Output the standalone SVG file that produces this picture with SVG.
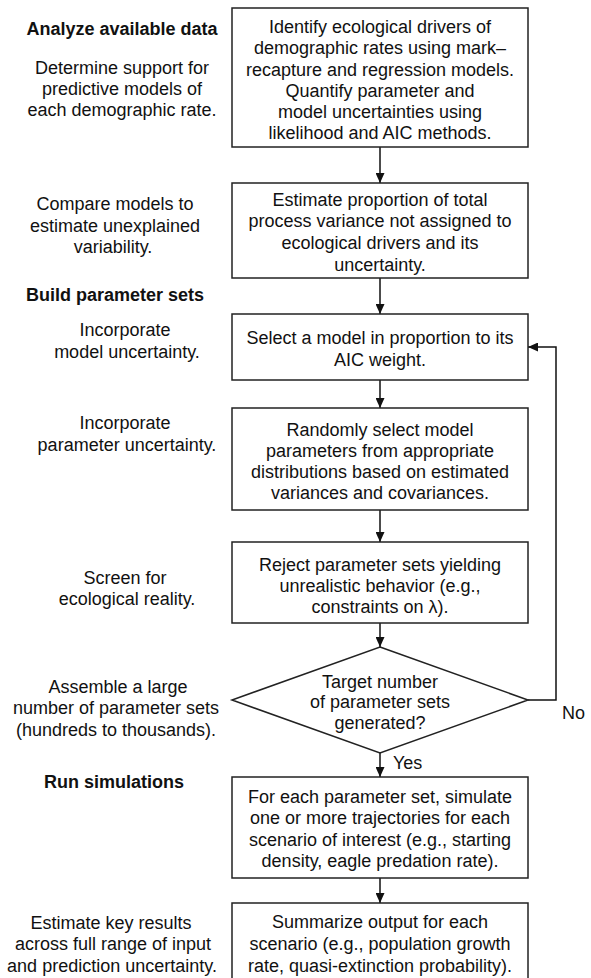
<svg xmlns="http://www.w3.org/2000/svg" width="591" height="978" viewBox="0 0 591 978">
<style>
  text { font-family: "Liberation Sans", Arial, sans-serif; font-size: 18px; fill: #111; }
  .c { text-anchor: middle; }
  .b { font-weight: bold; }
  .box { fill: #fff; stroke: #222; stroke-width: 1.5; }
  .ln { fill: none; stroke: #111; stroke-width: 1.5; marker-end: url(#ah); }
</style>
<defs>
  <marker id="ah" markerUnits="userSpaceOnUse" markerWidth="10" markerHeight="9" refX="10" refY="4.5" orient="auto">
    <path d="M0,0 L10,4.5 L0,9 z" fill="#111"/>
  </marker>
</defs>
<rect width="591" height="978" fill="#fff"/>

<g id="left-labels">
  <text class="c b" x="122" y="35">Analyze available data</text>
  <text class="c" x="122" y="74">Determine support for</text>
  <text class="c" x="122" y="95">predictive models of</text>
  <text class="c" x="122" y="116">each demographic rate.</text>
  <text class="c" x="115" y="210">Compare models to</text>
  <text class="c" x="115" y="232">estimate unexplained</text>
  <text class="c" x="113" y="253">variability.</text>
  <text class="c b" x="115" y="301">Build parameter sets</text>
  <text class="c" x="125" y="336">Incorporate</text>
  <text class="c" x="127" y="358">model uncertainty.</text>
  <text class="c" x="125" y="429">Incorporate</text>
  <text class="c" x="127" y="451">parameter uncertainty.</text>
  <text class="c" x="125" y="584">Screen for</text>
  <text class="c" x="127" y="605">ecological reality.</text>
  <text class="c" x="118" y="693">Assemble a large</text>
  <text class="c" x="116" y="714">number of parameter sets</text>
  <text class="c" x="116" y="736">(hundreds to thousands).</text>
  <text class="c b" x="114" y="788">Run simulations</text>
  <text class="c" x="111" y="929">Estimate key results</text>
  <text class="c" x="113" y="950">across full range of input</text>
  <text class="c" x="112" y="972">and prediction uncertainty.</text>
</g>

<g id="connectors">
  <line class="ln" x1="380" y1="147" x2="380" y2="183"/>
  <line class="ln" x1="380" y1="278" x2="380" y2="314"/>
  <line class="ln" x1="380" y1="380" x2="380" y2="408"/>
  <line class="ln" x1="380" y1="510" x2="380" y2="542"/>
  <line class="ln" x1="380" y1="623" x2="380" y2="647"/>
  <line class="ln" x1="380" y1="753" x2="380" y2="777"/>
  <line class="ln" x1="380" y1="878" x2="380" y2="903"/>
  <polyline class="ln" points="528,700 556,700 556,347 528,347"/>
  <text x="562" y="719">No</text>
  <text x="393" y="769">Yes</text>
</g>

<g id="n1">
  <rect class="box" x="232" y="8" width="296" height="139"/>
  <text class="c" x="380" y="33">Identify ecological drivers of</text>
  <text class="c" x="380" y="54">demographic rates using mark–</text>
  <text class="c" x="380" y="76">recapture and regression models.</text>
  <text class="c" x="380" y="97">Quantify parameter and</text>
  <text class="c" x="380" y="118">model uncertainties using</text>
  <text class="c" x="380" y="139">likelihood and AIC methods.</text>
</g>

<g id="n2">
  <rect class="box" x="232" y="183" width="296" height="95"/>
  <text class="c" x="380" y="206">Estimate proportion of total</text>
  <text class="c" x="380" y="227">process variance not assigned to</text>
  <text class="c" x="380" y="249">ecological drivers and its</text>
  <text class="c" x="380" y="271">uncertainty.</text>
</g>

<g id="n3">
  <rect class="box" x="232" y="314" width="296" height="66"/>
  <text class="c" x="380" y="344">Select a model in proportion to its</text>
  <text class="c" x="380" y="366">AIC weight.</text>
</g>

<g id="n4">
  <rect class="box" x="232" y="408" width="296" height="102"/>
  <text class="c" x="380" y="436">Randomly select model</text>
  <text class="c" x="380" y="457">parameters from appropriate</text>
  <text class="c" x="380" y="478">distributions based on estimated</text>
  <text class="c" x="380" y="499">variances and covariances.</text>
</g>

<g id="n5">
  <rect class="box" x="232" y="542" width="296" height="81"/>
  <text class="c" x="380" y="571">Reject parameter sets yielding</text>
  <text class="c" x="380" y="592">unrealistic behavior (e.g.,</text>
  <text class="c" x="380" y="613">constraints on λ).</text>
</g>

<g id="n6">
  <polygon class="box" points="380,647 528,700 380,753 232,700"/>
  <text class="c" x="380" y="688">Target number</text>
  <text class="c" x="380" y="708">of parameter sets</text>
  <text class="c" x="380" y="729">generated?</text>
</g>

<g id="n7">
  <rect class="box" x="232" y="777" width="296" height="101"/>
  <text class="c" x="380" y="803">For each parameter set, simulate</text>
  <text class="c" x="380" y="824">one or more trajectories for each</text>
  <text class="c" x="380" y="846">scenario of interest (e.g., starting</text>
  <text class="c" x="380" y="867">density, eagle predation rate).</text>
</g>

<g id="n8">
  <rect class="box" x="232" y="903" width="296" height="90"/>
  <text class="c" x="380" y="928">Summarize output for each</text>
  <text class="c" x="380" y="950">scenario (e.g., population growth</text>
  <text class="c" x="380" y="972">rate, quasi-extinction probability).</text>
</g>
</svg>
